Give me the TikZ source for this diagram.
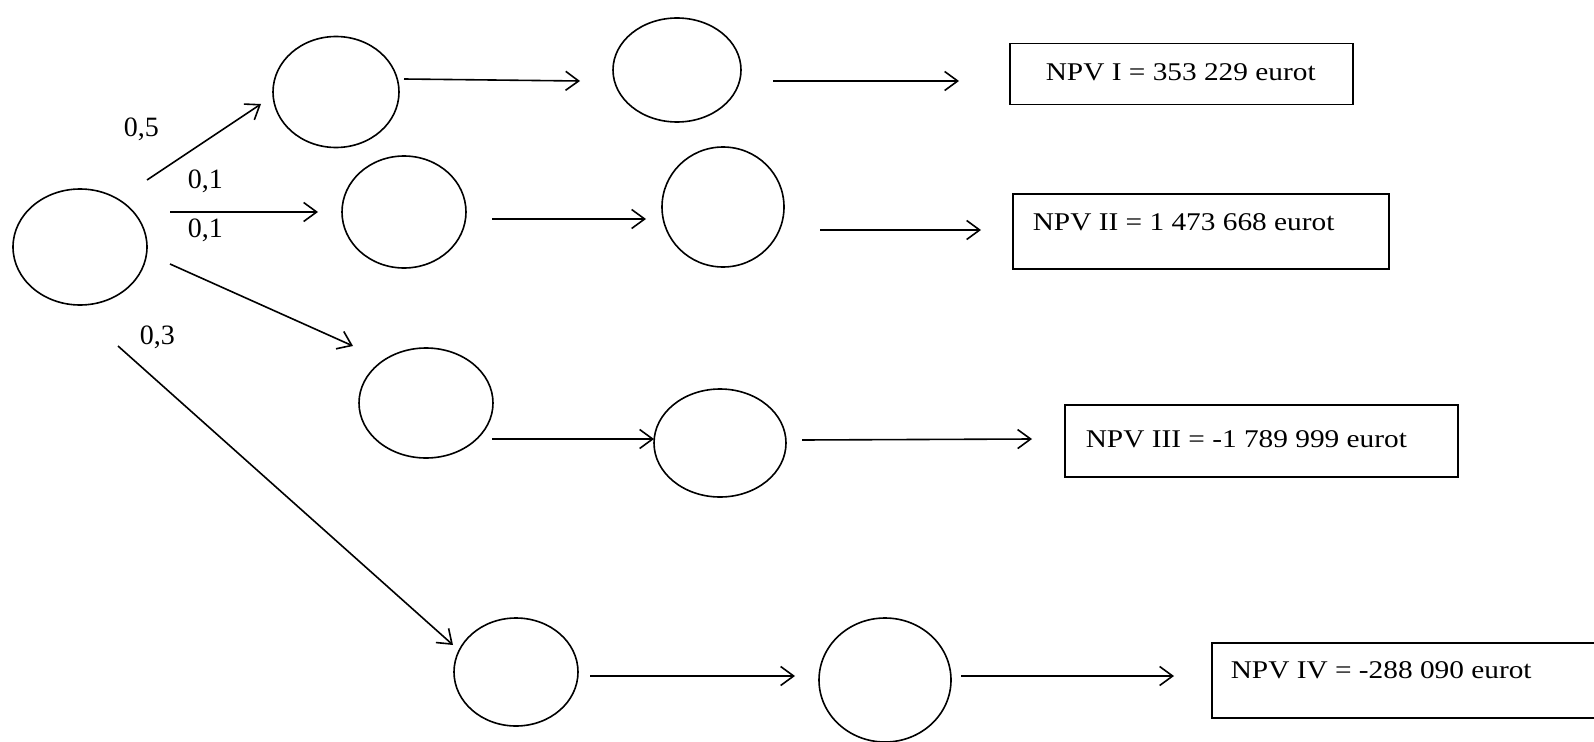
\documentclass[tikz,border=0pt]{standalone}
\usepackage{graphicx}
\usepackage{fontspec}
\setmainfont{Liberation Serif}
\usetikzlibrary{shapes.geometric,arrows.meta}
\begin{document}
\begin{tikzpicture}[x=1pt,y=-1pt,
  line width=1.6pt,
  st/.style={draw, ellipse, inner sep=0pt, line width=1.6pt},
  res/.style={draw, rectangle, inner sep=0pt, line width=1.5pt, anchor=north west},
  arr/.style={-{Straight Barb[length=13pt,width=19pt,line width=1.6pt]}},
  lbl/.style={font=\fontsize{28}{30}\selectfont, inner sep=0pt, anchor=base west},
  txt/.style={font=\fontsize{25.5}{28}\selectfont, inner sep=0pt, anchor=base west}]
\clip (0,0) rectangle (1594,741);
% states
\node[st, minimum width=134pt, minimum height=116pt] (E0) at (80,247) {};
\node[st, minimum width=126pt, minimum height=111pt] (E1) at (336,92) {};
\node[st, minimum width=128pt, minimum height=104pt] (E2) at (677,70) {};
\node[st, minimum width=124pt, minimum height=112pt] (E3) at (404,212) {};
\node[st, minimum width=122pt, minimum height=120pt] (E4) at (723,207) {};
\node[st, minimum width=134pt, minimum height=110pt] (E5) at (426,403) {};
\node[st, minimum width=132pt, minimum height=108pt] (E6) at (720,443) {};
\node[st, minimum width=124pt, minimum height=108pt] (E7) at (516,672) {};
\node[st, minimum width=132pt, minimum height=124pt] (E8) at (885,680) {};
% result boxes
\node[res, minimum width=343pt, minimum height=61pt] (B1) at (1009,43) {};
\node[res, minimum width=376pt, minimum height=75pt] (B2) at (1012,193) {};
\node[res, minimum width=393pt, minimum height=72pt] (B3) at (1064,404) {};
\node[res, minimum width=420pt, minimum height=75pt] (B4) at (1211,642) {};
\node[txt] (T1) at (1045,81) {\scalebox{1.15}[1]{NPV I = 353 229 eurot}};
\node[txt] (T2) at (1032,230) {\scalebox{1.15}[1]{NPV II = 1 473 668 eurot}};
\node[txt] (T3) at (1085,447) {\scalebox{1.15}[1]{NPV III = -1 789 999 eurot}};
\node[txt] (T4) at (1230,678) {\scalebox{1.15}[1]{NPV IV = -288 090 eurot}};
% probability labels
\node[lbl] (L1) at (123,136) {0,5};
\node[lbl] (L2) at (187,188) {0,1};
\node[lbl] (L3) at (187,237) {0,1};
\node[lbl] (L4) at (139,344) {0,3};
% connector end points
\coordinate (a1s) at (147,180); \coordinate (a1e) at (261,104);
\coordinate (a2s) at (170,212); \coordinate (a2e) at (318,212);
\coordinate (a3s) at (170,264); \coordinate (a3e) at (353,346);
\coordinate (a4s) at (118,346); \coordinate (a4e) at (453,645);
\coordinate (b1s) at (404,79);  \coordinate (b1e) at (580,81);
\coordinate (c1s) at (773,81);  \coordinate (c1e) at (959,81);
\coordinate (b2s) at (492,219); \coordinate (b2e) at (646,219);
\coordinate (c2s) at (820,230); \coordinate (c2e) at (981,230);
\coordinate (b3s) at (492,439); \coordinate (b3e) at (654,439);
\coordinate (c3s) at (802,440); \coordinate (c3e) at (1032,439);
\coordinate (b4s) at (590,676); \coordinate (b4e) at (795,676);
\coordinate (c4s) at (961,676); \coordinate (c4e) at (1174,676);
\draw[arr] (a1s) -- (a1e);
\draw[arr] (a2s) -- (a2e);
\draw[arr] (a3s) -- (a3e);
\draw[arr] (a4s) -- (a4e);
\draw[arr] (b1s) -- (b1e);
\draw[arr] (c1s) -- (c1e);
\draw[arr] (b2s) -- (b2e);
\draw[arr] (c2s) -- (c2e);
\draw[arr] (b3s) -- (b3e);
\draw[arr] (c3s) -- (c3e);
\draw[arr] (b4s) -- (b4e);
\draw[arr] (c4s) -- (c4e);
\end{tikzpicture}
\end{document}
